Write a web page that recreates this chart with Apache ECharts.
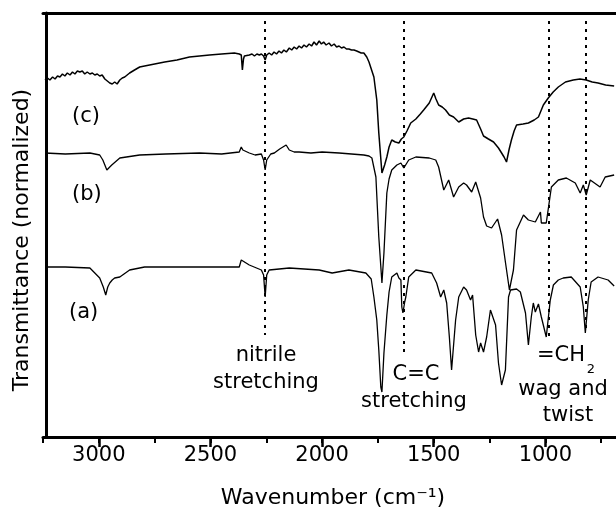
<!DOCTYPE html>
<html>
<head>
<meta charset="utf-8">
<script src="https://cdn.jsdelivr.net/npm/echarts@6/dist/echarts.min.js"></script>
<style>
  html, body { margin: 0; padding: 0; background: #fff; }
  #chart { width: 616px; height: 514px; }
</style>
</head>
<body>
<div id="chart"></div>
<script>
// spectra, [wavenumber cm-1, transmittance a.u. (offset per trace)]
const traceA = [
  [3241,170],[3150,170],[3040,169],[3018,164],[2996,159],[2980,150],[2969,142],[2960,150],[2951,154],
  [2940,157],[2929,159],[2906,160],[2862,167],[2795,170],[2549,170],[2371,170],[2362,177],[2326,172],
  [2272,167],[2262,162],[2255,140],[2248,162],[2237,167],[2147,169],[2013,167],[1955,164],[1880,167],
  [1804,164],[1780,158],[1768,140],[1755,117],[1746,87],[1737,50],[1732,45],[1723,84],[1710,122],
  [1700,145],[1688,160],[1665,164],[1656,159],[1647,157],[1643,130],[1638,124],[1630,135],[1625,140],
  [1612,160],[1580,167],[1509,164],[1487,154],[1469,140],[1455,147],[1442,134],[1430,100],[1420,67],
  [1415,67],[1402,117],[1388,140],[1366,150],[1353,147],[1335,137],[1326,142],[1312,102],[1299,85],
  [1290,94],[1277,85],[1263,100],[1246,127],[1223,112],[1210,74],[1196,52],[1179,67],[1165,140],
  [1156,147],[1129,148],[1112,145],[1089,124],[1076,92],[1063,120],[1054,134],[1045,125],[1031,133],
  [1018,120],[996,100],[978,137],[964,152],[942,157],[920,159],[884,160],[844,150],[830,130],
  [821,104],[808,137],[795,155],[764,160],[719,157],[692,151]
];
const traceB = [
  [3241,284],[3150,283],[3040,284],[2996,282],[2982,277],[2964,267],[2951,270],[2942,272],[2906,279],
  [2817,282],[2700,283],[2549,284],[2450,283],[2371,285],[2362,290],[2355,287],[2348,285],[2326,284],
  [2300,282],[2272,283],[2262,277],[2255,267],[2248,277],[2230,283],[2214,284],[2190,288],[2161,292],
  [2147,287],[2125,285],[2103,285],[2050,284],[2000,285],[1924,284],[1813,282],[1790,281],[1777,279],
  [1759,260],[1746,200],[1732,154],[1723,184],[1710,244],[1700,258],[1688,267],[1665,272],[1647,274],
  [1634,269],[1612,277],[1580,280],[1520,279],[1491,277],[1478,270],[1455,247],[1433,257],[1411,240],
  [1388,250],[1366,254],[1353,252],[1330,245],[1312,255],[1290,239],[1277,220],[1263,211],[1241,209],
  [1214,218],[1196,202],[1179,175],[1161,147],[1143,167],[1129,207],[1098,222],[1076,217],[1045,215],
  [1022,225],[1018,214],[996,214],[973,250],[942,257],[906,259],[866,254],[844,244],[830,252],
  [817,242],[799,257],[755,250],[732,260],[692,262]
];
const traceC = [
  [3241,357],[3230,359],[3219,357],[3207,360],[3196,358],[3185,361],[3174,360],[3163,363],[3152,361],
  [3141,364],[3129,362],[3118,365],[3107,363],[3096,366],[3085,365],[3074,366],[3063,363],[3052,365],
  [3040,363],[3029,364],[3018,362],[3007,363],[2996,361],[2985,362],[2973,358],[2962,356],[2951,354],
  [2940,353],[2929,355],[2918,353],[2906,357],[2895,359],[2884,360],[2862,364],[2840,367],[2817,370],
  [2795,371],[2750,373],[2705,375],[2650,377],[2594,380],[2549,381],[2504,382],[2450,383],[2393,384],
  [2371,383],[2362,382],[2357,367],[2352,378],[2348,381],[2326,382],[2314,383],[2303,381],[2292,383],
  [2281,382],[2272,383],[2262,381],[2255,377],[2248,382],[2237,384],[2226,382],[2215,385],[2204,383],
  [2193,386],[2182,384],[2171,387],[2160,385],[2147,389],[2136,387],[2125,390],[2114,388],[2103,391],
  [2092,389],[2081,392],[2070,390],[2058,393],[2047,391],[2036,395],[2025,392],[2013,396],[2003,393],
  [1993,395],[1982,392],[1969,394],[1958,391],[1946,393],[1935,390],[1924,391],[1913,389],[1902,390],
  [1891,388],[1880,388],[1868,387],[1857,387],[1845,386],[1835,385],[1825,384],[1813,384],[1800,380],
  [1790,375],[1768,360],[1755,337],[1746,304],[1732,264],[1720,272],[1710,280],[1700,290],[1688,297],
  [1672,295],[1656,294],[1645,298],[1634,300],[1620,306],[1603,314],[1580,318],[1560,323],[1545,327],
  [1520,334],[1500,344],[1490,338],[1478,332],[1462,330],[1447,327],[1430,322],[1411,320],[1388,315],
  [1366,318],[1344,319],[1325,318],[1308,317],[1290,308],[1277,301],[1255,298],[1232,295],[1210,289],
  [1196,284],[1185,280],[1174,275],[1162,288],[1152,297],[1140,306],[1129,312],[1100,313],[1076,314],
  [1050,317],[1031,320],[1009,332],[987,339],[965,345],[942,350],[910,355],[875,357],[845,358],
  [817,357],[790,355],[764,354],[730,352],[692,351]
];
const labelNames = ['(c)', '(b)', '(a)'];
// dotted guide lines: [wavenumber, lower end]
const guideLines = [[2255, 102], [1635, 82], [987, 99], [817, 104]];
const xLow = 500, xHigh = 3250;

const font = 'DejaVu Sans';
const chart = echarts.init(document.getElementById('chart'));

function lineSeries(data, extra) {
  return Object.assign({
    type: 'line',
    data: data,
    xAxisIndex: 0,
    yAxisIndex: 0,
    showSymbol: false,
    lineStyle: { color: '#000', width: 1.3 },
    silent: true
  }, extra || {});
}

chart.setOption({
  animation: false,
  backgroundColor: '#fff',
  grid: [
    { left: 43, right: -41, top: 13, bottom: 77, outerBoundsMode: 'none', containLabel: false },
    // same scale but runs on to 3500 off-canvas, for the long ticks at multiples of 500
    { left: 43 - 250 * 614 / 2750, right: -41, top: 13, bottom: 77, outerBoundsMode: 'none', containLabel: false }
  ],
  xAxis: [
    {
      type: 'value', gridIndex: 0, min: xLow, max: xHigh, interval: 250, inverse: true,
      axisLine: { lineStyle: { color: '#000', width: 3 } },
      axisTick: { length: 6, lineStyle: { color: '#000', width: 2 } },
      axisLabel: { show: false },
      splitLine: { show: false }
    },
    {
      type: 'value', gridIndex: 0, min: xLow, max: xHigh, inverse: true, position: 'top',
      axisLine: { lineStyle: { color: '#000', width: 3 } },
      axisTick: { show: false }, axisLabel: { show: false }, splitLine: { show: false }
    },
    {
      type: 'value', gridIndex: 1, min: xLow, max: 3500, interval: 500, inverse: true,
      axisLine: { show: false },
      axisTick: { length: 10, lineStyle: { color: '#000', width: 2.5 } },
      axisLabel: {
        margin: 8, color: '#000', fontFamily: font, fontSize: 21,
        formatter: v => (v === 3500 || v === 500) ? '' : String(v)
      },
      splitLine: { show: false }
    }
  ],
  yAxis: [
    {
      type: 'value', gridIndex: 0, min: 0, max: 424, offset: -3,
      axisLine: { show: true, lineStyle: { color: '#000', width: 3 } },
      axisTick: { show: false }, axisLabel: { show: false }, splitLine: { show: false }
    },
    { type: 'value', gridIndex: 1, min: 0, max: 424, show: false }
  ],
  series: [
    lineSeries(traceA, {
      markLine: {
        silent: true,
        symbol: 'none',
        label: { show: false },
        lineStyle: { color: '#000', width: 2, type: [3, 5] },
        data: guideLines.map(g => [{ coord: [g[0], 416] }, { coord: [g[0], g[1]] }])
      }
    }),
    lineSeries(traceB),
    lineSeries(traceC, { lineStyle: { color: '#000', width: 1.5 } })
  ],
  graphic: [
    { type: 'text', left: 72, top: 106, style: { text: labelNames[0], font: '21px "DejaVu Sans"', fill: '#000' } },
    { type: 'text', left: 72, top: 184, style: { text: labelNames[1], font: '21px "DejaVu Sans"', fill: '#000' } },
    { type: 'text', left: 69, top: 302, style: { text: labelNames[2], font: '21px "DejaVu Sans"', fill: '#000' } },
    { type: 'text', x: 266, y: 356, style: { text: 'nitrile', font: '21px "DejaVu Sans"', fill: '#000', textAlign: 'center', textVerticalAlign: 'middle' } },
    { type: 'text', x: 266, y: 383, style: { text: 'stretching', font: '21px "DejaVu Sans"', fill: '#000', textAlign: 'center', textVerticalAlign: 'middle' } },
    { type: 'text', x: 416, y: 375, style: { text: 'C=C', font: '21px "DejaVu Sans"', fill: '#000', textAlign: 'center', textVerticalAlign: 'middle' } },
    { type: 'text', x: 414, y: 402, style: { text: 'stretching', font: '21px "DejaVu Sans"', fill: '#000', textAlign: 'center', textVerticalAlign: 'middle' } },
    { type: 'text', x: 561, y: 356, style: { text: '=CH', font: '21px "DejaVu Sans"', fill: '#000', textAlign: 'center', textVerticalAlign: 'middle' } },
    { type: 'text', x: 591, y: 370, style: { text: '2', font: '13px "DejaVu Sans"', fill: '#000', textAlign: 'center', textVerticalAlign: 'middle' } },
    { type: 'text', x: 563, y: 390, style: { text: 'wag and', font: '21px "DejaVu Sans"', fill: '#000', textAlign: 'center', textVerticalAlign: 'middle' } },
    { type: 'text', x: 568, y: 416, style: { text: 'twist', font: '21px "DejaVu Sans"', fill: '#000', textAlign: 'center', textVerticalAlign: 'middle' } },
    { type: 'text', x: 333, y: 498, style: { text: 'Wavenumber (cm\u207B\u00B9)', font: '22px "DejaVu Sans"', fill: '#000', textAlign: 'center', textVerticalAlign: 'middle' } },
    { type: 'text', x: 22, y: 240, rotation: Math.PI / 2, style: { text: 'Transmittance (normalized)', font: '22px "DejaVu Sans"', fill: '#000', textAlign: 'center', textVerticalAlign: 'middle' } }
  ]
});
</script>
</body>
</html>
